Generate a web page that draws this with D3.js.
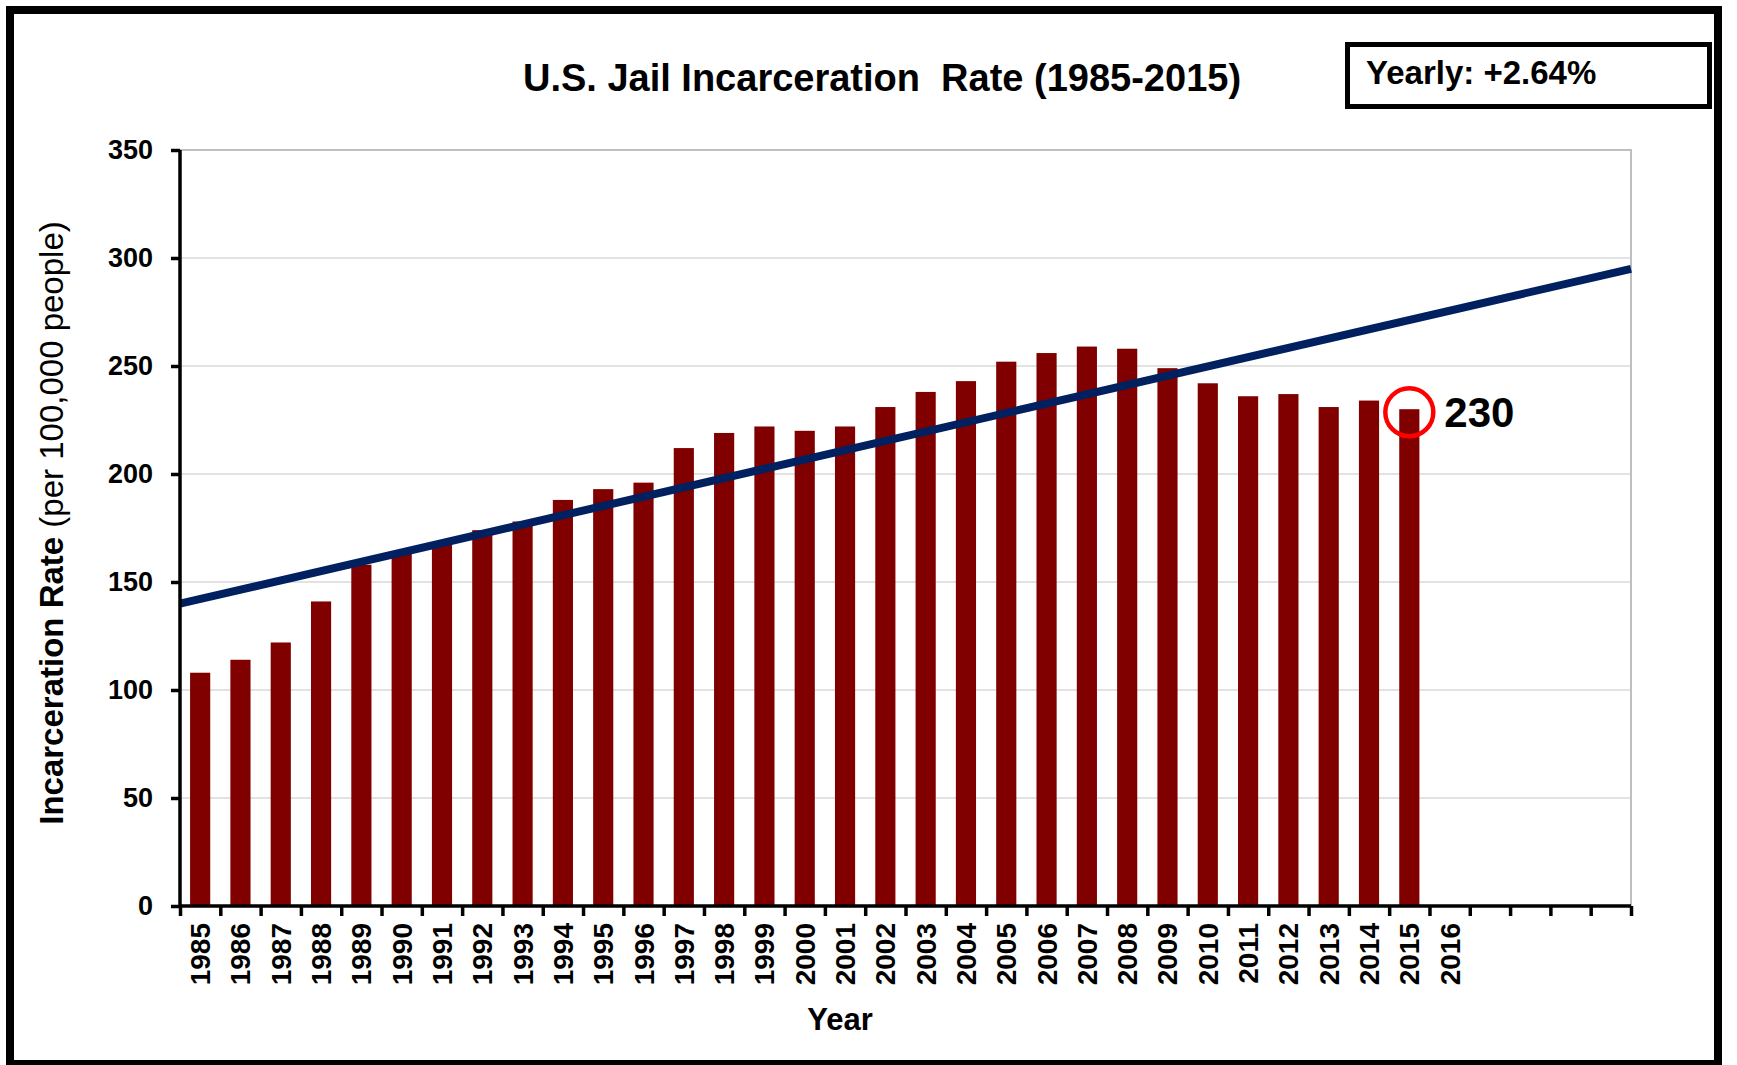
<!DOCTYPE html>
<html><head><meta charset="utf-8">
<script src="https://cdn.jsdelivr.net/npm/d3@7/dist/d3.min.js"></script>
<style>
body{margin:0;background:#fff;}
svg{display:block;}
text{font-family:"Liberation Sans",Arial,Helvetica,sans-serif;}
</style>
</head><body>
<svg id="chart" width="1737" height="1065"></svg>
<script>
// ---------- DATA ----------
const categories = ["1985","1986","1987","1988","1989","1990","1991","1992","1993","1994",
  "1995","1996","1997","1998","1999","2000","2001","2002","2003","2004","2005","2006",
  "2007","2008","2009","2010","2011","2012","2013","2014","2015","2016","2017","2018","2019","2020"];
const tickLabels = ["1985","1986","1987","1988","1989","1990","1991","1992","1993","1994",
  "1995","1996","1997","1998","1999","2000","2001","2002","2003","2004","2005","2006",
  "2007","2008","2009","2010","2011","2012","2013","2014","2015","2016"];
const barYears = ["1985","1986","1987","1988","1989","1990","1991","1992","1993","1994",
  "1995","1996","1997","1998","1999","2000","2001","2002","2003","2004","2005","2006",
  "2007","2008","2009","2010","2011","2012","2013","2014","2015"];
const rates = [108,114,122,141,158,163,168,174,178,188,193,196,212,219,222,220,222,231,238,243,252,256,259,258,249,242,236,237,231,234,230];
const trendPos = [0, 36];          // category-index positions (plot edges)
const trendVals = [140, 295];      // trend line values at those positions
const yTicks = [0,50,100,150,200,250,300,350];
const titleText = "U.S. Jail Incarceration\u00a0 Rate (1985-2015)";
const yearlyText = "Yearly: +2.64%";
const yTitleBold = "Incarceration Rate ";
const yTitleReg = "(per 100,000 people)";
const xTitleText = "Year";
const highlightYear = "2015";

// ---------- LAYOUT ----------
const L = 180, R = 1631, T = 150, B = 906;
const svg = d3.select("#chart");

svg.append("rect").attr("x",10).attr("y",10).attr("width",1708).attr("height",1054)
  .attr("fill","#fff").attr("stroke","#000").attr("stroke-width",8);

const x = d3.scaleBand().domain(categories).range([L,R]).paddingInner(0.5).paddingOuter(0.25);
const xi = d3.scaleLinear().domain([0, categories.length]).range([L,R]);
const y = d3.scaleLinear().domain([0,350]).range([B,T]);

// gridlines
svg.append("g").selectAll("line").data(yTicks.filter(v=>v>0 && v<350)).join("line")
  .attr("x1",L).attr("x2",R).attr("y1",d=>y(d)).attr("y2",d=>y(d))
  .attr("stroke","#d9d9d9").attr("stroke-width",1.6);
// plot border (top + right)
svg.append("path").attr("d",`M${L},${y(350)}H${R}V${B}`).attr("fill","none")
  .attr("stroke","#bfbfbf").attr("stroke-width",2);

// bars
svg.append("g").selectAll("rect").data(barYears.map((c,i)=>({c,v:rates[i]}))).join("rect")
  .attr("x",d=>x(d.c)).attr("width",x.bandwidth())
  .attr("y",d=>y(d.v)).attr("height",d=>B-y(d.v))
  .attr("fill","#800000");

// trend line
svg.append("path").datum(trendPos.map((p,i)=>({p,v:trendVals[i]})))
  .attr("d",d3.line().x(d=>xi(d.p)).y(d=>y(d.v)))
  .attr("fill","none").attr("stroke","#002060").attr("stroke-width",8);

// y axis
const yAxis = svg.append("g").attr("transform",`translate(${L},0)`)
  .call(d3.axisLeft(y).tickValues(yTicks).tickSize(9).tickPadding(18).tickFormat(d3.format("d")));
yAxis.select(".domain").attr("stroke","#000").attr("stroke-width",3.5).attr("d",`M0,${B}V${T}`);
yAxis.selectAll(".tick line").attr("stroke","#000").attr("stroke-width",3.5);
yAxis.selectAll(".tick text").attr("font-size",27).attr("font-weight","bold").attr("fill","#000")
  .attr("font-family","Liberation Sans, Arial, sans-serif");

// x axis (ticks between categories)
const xAxis = svg.append("g").attr("transform",`translate(0,${B})`)
  .call(d3.axisBottom(xi).tickValues(d3.range(categories.length+1)).tickSize(10).tickFormat(""));
xAxis.select(".domain").attr("stroke","#000").attr("stroke-width",3.5).attr("d",`M${L},0H${R}`);
xAxis.selectAll(".tick line").attr("stroke","#000").attr("stroke-width",3.5);

// x labels
svg.append("g").selectAll("text").data(tickLabels).join("text")
  .attr("transform",d=>`translate(${x(d)+x.bandwidth()/2+10},${B+17}) rotate(-90)`)
  .attr("text-anchor","end").attr("font-size",28).attr("font-weight","bold").text(d=>d);

// title
svg.append("text").attr("x",882).attr("y",91).attr("text-anchor","middle")
  .attr("font-size",38).attr("font-weight","bold").text(titleText);

// yearly box
svg.append("rect").attr("x",1347.5).attr("y",44.5).attr("width",362).attr("height",62)
  .attr("fill","#fff").attr("stroke","#000").attr("stroke-width",5);
svg.append("text").attr("x",1366).attr("y",84).attr("font-size",33).attr("font-weight","bold").text(yearlyText);

// axis titles
const yt = svg.append("text").attr("transform",`translate(63,523) rotate(-90)`).attr("text-anchor","middle")
  .attr("font-size",33);
yt.append("tspan").attr("font-weight","bold").text(yTitleBold);
yt.append("tspan").text(yTitleReg);
svg.append("text").attr("x",840).attr("y",1030).attr("text-anchor","middle")
  .attr("font-size",31).attr("font-weight","bold").text(xTitleText);

// highlight annotation
const hv = rates[barYears.indexOf(highlightYear)];
const hx = x(highlightYear)+x.bandwidth()/2;
svg.append("circle").attr("cx",hx).attr("cy",y(hv)+3).attr("r",24)
  .attr("fill","none").attr("stroke","#ff0000").attr("stroke-width",4.5);
svg.append("text").attr("x",hx+35).attr("y",y(hv)+18).attr("font-size",42).attr("font-weight","bold").text(String(hv));
</script>
</body></html>
